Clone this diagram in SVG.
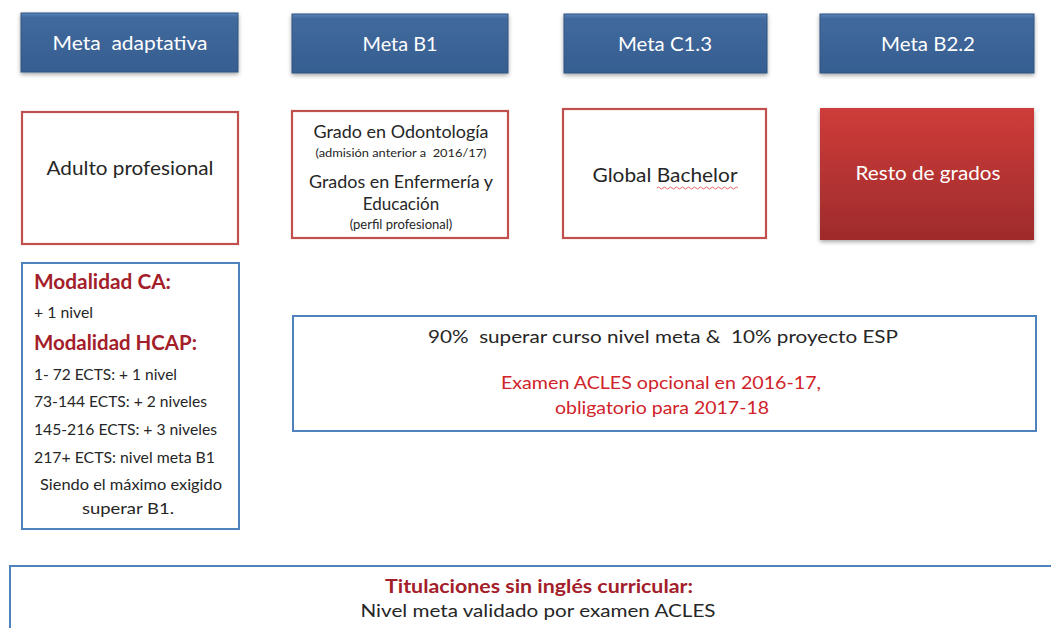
<svg xmlns="http://www.w3.org/2000/svg" width="1051" height="628" viewBox="0 0 1051 628">
<style>
text{font-family:Lato,"Liberation Sans",sans-serif;white-space:pre;}
.hdr{fill:url(#blueGrad);stroke:#2F5480;stroke-width:1;filter:url(#shadow);}
.hdrTxt{fill:#ffffff;font-size:19.5px;text-anchor:middle;}
.redBox{fill:#ffffff;stroke:#C0504D;stroke-width:2.2;}
.blueBox{fill:#ffffff;stroke:#4F81BD;stroke-width:2;}
.dark{fill:#262626;}
.mid{text-anchor:middle;}
.bold{font-weight:bold;fill:#A3202A;}
.red{fill:#D0232A;}
</style>
<defs>
<linearGradient id="blueGrad" x1="0" y1="0" x2="0" y2="1">
<stop offset="0" stop-color="#5A86BC"/>
<stop offset="0.08" stop-color="#41699D"/>
<stop offset="1" stop-color="#365E90"/>
</linearGradient>
<linearGradient id="redGrad" x1="0" y1="0" x2="0" y2="1">
<stop offset="0" stop-color="#CE3C3A"/>
<stop offset="1" stop-color="#9E2B2B"/>
</linearGradient>
<filter id="shadow" x="-5%" y="-10%" width="110%" height="130%">
<feDropShadow dx="0" dy="2" stdDeviation="2" flood-color="#000" flood-opacity="0.35"/>
</filter>
</defs>
<rect width="1051" height="628" fill="#ffffff"/>
<g id="meta-adaptativa">
<rect class="hdr" x="21" y="13" width="217" height="59"/>
<text class="hdrTxt" x="130" y="50" textLength="155" lengthAdjust="spacingAndGlyphs">Meta  adaptativa</text>
</g>
<g id="meta-b1">
<rect class="hdr" x="292" y="14" width="216" height="59"/>
<text class="hdrTxt" x="400" y="51" textLength="75" lengthAdjust="spacingAndGlyphs">Meta B1</text>
</g>
<g id="meta-c13">
<rect class="hdr" x="564" y="14" width="203" height="59"/>
<text class="hdrTxt" x="665" y="51" textLength="94" lengthAdjust="spacingAndGlyphs">Meta C1.3</text>
</g>
<g id="meta-b22">
<rect class="hdr" x="820" y="14" width="214" height="59"/>
<text class="hdrTxt" x="928" y="51" textLength="94" lengthAdjust="spacingAndGlyphs">Meta B2.2</text>
</g>
<g id="adulto-profesional">
<rect class="redBox" x="22" y="112" width="216" height="132"/>
<text class="dark mid" x="130" y="175" font-size="20" textLength="167" lengthAdjust="spacingAndGlyphs">Adulto profesional</text>
</g>
<g id="grado-odontologia">
<rect class="redBox" x="292" y="111" width="216" height="127"/>
<text class="dark mid" x="401" y="138" font-size="17" textLength="175" lengthAdjust="spacingAndGlyphs">Grado en Odontología</text>
<text class="dark mid" x="401" y="157" font-size="12" textLength="171" lengthAdjust="spacingAndGlyphs">(admisión anterior a  2016/17)</text>
<text class="dark mid" x="401" y="188" font-size="17" textLength="184" lengthAdjust="spacingAndGlyphs">Grados en Enfermería y</text>
<text class="dark mid" x="401" y="210" font-size="17">Educación</text>
<text class="dark mid" x="401" y="229" font-size="13">(perfil profesional)</text>
</g>
<g id="global-bachelor">
<rect class="redBox" x="563" y="109" width="203" height="129"/>
<text class="dark mid" x="665" y="182" font-size="20" textLength="145" lengthAdjust="spacingAndGlyphs">Global Bachelor</text>
<path d="M657 188 q1.5 -2 3 0 t3 0 t3 0 t3 0 t3 0 t3 0 t3 0 t3 0 t3 0 t3 0 t3 0 t3 0 t3 0 t3 0 t3 0 t3 0 t3 0 t3 0 t3 0 t3 0 t3 0 t3 0 t3 0 t3 0 t3 0 t3 0 t3 0" fill="none" stroke="#E04040" stroke-width="0.8"/>
</g>
<g id="resto-grados">
<rect x="820" y="108" width="214" height="132" fill="url(#redGrad)" filter="url(#shadow)"/>
<text class="hdrTxt" x="928" y="180" font-size="20" textLength="145" lengthAdjust="spacingAndGlyphs">Resto de grados</text>
</g>
<g id="modalidad">
<rect class="blueBox" x="22" y="263" width="217" height="266"/>
<text class="bold" x="34" y="289" font-size="20" textLength="137" lengthAdjust="spacingAndGlyphs">Modalidad CA:</text>
<text class="dark" x="34" y="318" font-size="14.5" textLength="59" lengthAdjust="spacingAndGlyphs">+ 1 nivel</text>
<text class="bold" x="34" y="350" font-size="20" textLength="163" lengthAdjust="spacingAndGlyphs">Modalidad HCAP:</text>
<text class="dark" x="34" y="380" font-size="15" textLength="143" lengthAdjust="spacingAndGlyphs">1- 72 ECTS: + 1 nivel</text>
<text class="dark" x="34" y="407" font-size="15" textLength="173" lengthAdjust="spacingAndGlyphs">73-144 ECTS: + 2 niveles</text>
<text class="dark" x="34" y="435" font-size="15" textLength="183" lengthAdjust="spacingAndGlyphs">145-216 ECTS: + 3 niveles</text>
<text class="dark" x="34" y="463" font-size="15" textLength="181" lengthAdjust="spacingAndGlyphs">217+ ECTS: nivel meta B1</text>
<text class="dark mid" x="131" y="490" font-size="15" textLength="182" lengthAdjust="spacingAndGlyphs">Siendo el máximo exigido</text>
<text class="dark mid" x="128" y="514" font-size="15" textLength="92" lengthAdjust="spacingAndGlyphs">superar B1.</text>
</g>
<g id="evaluacion">
<rect class="blueBox" x="293" y="316" width="743" height="115"/>
<text class="dark mid" x="663" y="343" font-size="18" textLength="470" lengthAdjust="spacingAndGlyphs">90%  superar curso nivel meta &amp;  10% proyecto ESP</text>
<text class="red mid" x="661" y="389" font-size="18" textLength="320" lengthAdjust="spacingAndGlyphs">Examen ACLES opcional en 2016-17,</text>
<text class="red mid" x="662" y="414" font-size="18" textLength="214" lengthAdjust="spacingAndGlyphs">obligatorio para 2017-18</text>
</g>
<g id="titulaciones">
<rect class="blueBox" x="10" y="566" width="1060" height="80"/>
<text class="bold mid" x="539" y="593" font-size="18" textLength="308" lengthAdjust="spacingAndGlyphs">Titulaciones sin inglés curricular:</text>
<text class="dark mid" x="538" y="617" font-size="18" textLength="355" lengthAdjust="spacingAndGlyphs">Nivel meta validado por examen ACLES</text>
</g>
<g id="connectors"/>
</svg>
